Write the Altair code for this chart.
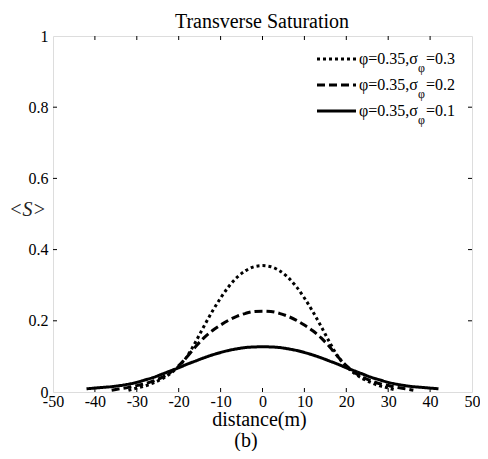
import altair as alt
import pandas as pd

# ---------------- data ----------------
x_dotted = list(range(-32, 33, 2))
s_dotted = [0.005, 0.011, 0.017, 0.026, 0.037, 0.052, 0.072, 0.100, 0.140, 0.184, 0.226,
            0.264, 0.297, 0.323, 0.341, 0.352, 0.355, 0.352, 0.341, 0.323, 0.297, 0.264,
            0.226, 0.184, 0.140, 0.100, 0.072, 0.052, 0.037, 0.026, 0.017, 0.011, 0.005]

x_dashed = list(range(-36, 37, 2))
s_dashed = [0.005, 0.009, 0.013, 0.018, 0.023, 0.031, 0.041, 0.055, 0.074, 0.099, 0.127,
            0.152, 0.172, 0.188, 0.202, 0.213, 0.221, 0.226, 0.227, 0.226, 0.221, 0.213,
            0.202, 0.188, 0.172, 0.152, 0.127, 0.099, 0.074, 0.055, 0.041, 0.031, 0.023,
            0.018, 0.013, 0.009, 0.005]

x_solid = list(range(-42, 43, 2))
s_solid = [0.009, 0.011, 0.013, 0.015, 0.018, 0.022, 0.027, 0.034, 0.041, 0.050, 0.059,
           0.068, 0.078, 0.087, 0.096, 0.104, 0.111, 0.117, 0.1215, 0.125, 0.1265, 0.127,
           0.1265, 0.125, 0.1215, 0.117, 0.111, 0.104, 0.096, 0.087, 0.078, 0.068, 0.059,
           0.050, 0.041, 0.034, 0.027, 0.022, 0.018, 0.015, 0.013, 0.011, 0.009]

series_names = ["sigma03", "sigma02", "sigma01"]
legend_main = ["φ=0.35,σ", "φ=0.35,σ", "φ=0.35,σ"]
legend_sub = ["φ", "φ", "φ"]
legend_tail = ["=0.3", "=0.2", "=0.1"]

x_ticks = [-50, -40, -30, -20, -10, 0, 10, 20, 30, 40, 50]
y_ticks = [0, 0.2, 0.4, 0.6, 0.8, 1]

# ---------------- tables ----------------
rows = []
for name, xs, ys in zip(series_names, [x_dotted, x_dashed, x_solid], [s_dotted, s_dashed, s_solid]):
    for a, b in zip(xs, ys):
        rows.append({"series": name, "x": a, "s": b})
df = pd.DataFrame(rows)

xt = pd.DataFrame({"x": x_ticks[1:-1]})
yt = pd.DataFrame({"y": y_ticks[1:-1]})

W, H = 419, 356
SERIF = "'Liberation Serif', 'Times New Roman', 'DejaVu Serif', serif"
dash_range = [[3, 3], [8, 4], [1, 0]]

xscale = alt.Scale(domain=[-50, 50], nice=False, zero=False)
yscale = alt.Scale(domain=[0, 1], nice=False)

curves = alt.Chart(df).mark_line(strokeWidth=3, color="black", interpolate="monotone").encode(
    x=alt.X("x:Q", scale=xscale,
            axis=alt.Axis(values=x_ticks, title="distance(m)", grid=False, ticks=False, domain=False,
                          labelFont=SERIF, labelFontSize=16, labelColor="black", labelPadding=1,
                          labelFlush=False, labelExpr="'' + datum.value",
                          titleFont=SERIF, titleFontSize=20, titleFontWeight="normal", titleColor="black",
                          titleBaseline="alphabetic", titleY=33, titleX=206)),
    y=alt.Y("s:Q", scale=yscale,
            axis=alt.Axis(values=y_ticks, title="<S>", grid=False, ticks=False, domain=False,
                          labelFont=SERIF, labelFontSize=16, labelColor="black", labelPadding=5,
                          labelFlush=False, labelExpr="'' + datum.value",
                          titleFont=SERIF, titleFontSize=20, titleFontWeight="normal", titleFontStyle="italic",
                          titleColor="#222", titleAngle=0, titleAlign="center", titleBaseline="middle",
                          titleX=-26, titleY=173)),
    strokeDash=alt.StrokeDash("series:N", scale=alt.Scale(domain=series_names, range=dash_range), legend=None),
    detail="series:N",
)

tick_style = dict(color="black", strokeWidth=1)
bottom_ticks = alt.Chart(xt).mark_rule(**tick_style).encode(x=alt.X("x:Q", scale=xscale), y=alt.value(H), y2=alt.value(H - 4))
top_ticks = alt.Chart(xt).mark_rule(**tick_style).encode(x=alt.X("x:Q", scale=xscale), y=alt.value(0), y2=alt.value(4))
left_ticks = alt.Chart(yt).mark_rule(**tick_style).encode(y=alt.Y("y:Q", scale=yscale), x=alt.value(0), x2=alt.value(4))
right_ticks = alt.Chart(yt).mark_rule(**tick_style).encode(y=alt.Y("y:Q", scale=yscale), x=alt.value(W), x2=alt.value(W - 4))

layers = [curves, bottom_ticks, top_ticks, left_ticks, right_ticks]

# legend (drawn by hand to allow subscripts)
leg_rows_y = [23, 49, 75]
for name, dash, ly, m, sub, tail in zip(series_names, dash_range, leg_rows_y, legend_main, legend_sub, legend_tail):
    base = alt.Chart(pd.DataFrame({"series": [name]}))
    layers.append(base.mark_rule(strokeWidth=3, color="black", strokeDash=dash).encode(
        x=alt.value(264), x2=alt.value(303), y=alt.value(ly)))
    layers.append(base.mark_text(font=SERIF, fontSize=16, align="left", baseline="middle", color="black").encode(
        x=alt.value(306), y=alt.value(ly), text=alt.value(m)))
    layers.append(base.mark_text(font=SERIF, fontSize=12, align="left", baseline="middle", color="black").encode(
        x=alt.value(365), y=alt.value(ly + 9), text=alt.value(sub)))
    layers.append(base.mark_text(font=SERIF, fontSize=16, align="left", baseline="middle", color="black").encode(
        x=alt.value(373), y=alt.value(ly), text=alt.value(tail)))

one = alt.Chart(pd.DataFrame({"k": [0]}))
title_txt = one.mark_text(font=SERIF, fontSize=20, align="center", baseline="alphabetic", color="black").encode(
    x=alt.value(209), y=alt.value(-8), text=alt.value("Transverse Saturation"))
sub_txt = one.mark_text(font=SERIF, fontSize=20, align="center", baseline="alphabetic", color="black").encode(
    x=alt.value(193), y=alt.value(411), text=alt.value("(b)"))
layers += [title_txt, sub_txt]

chart = alt.layer(*layers).properties(
    width=W, height=H,
    autosize=alt.AutoSizeParams(type="none"),
    padding={"left": 45, "top": 28, "right": 8, "bottom": 59},
).configure_view(stroke="#333", strokeWidth=1).configure(background="white")

chart.save("out.html", embed_options={"renderer": "svg", "actions": False})
